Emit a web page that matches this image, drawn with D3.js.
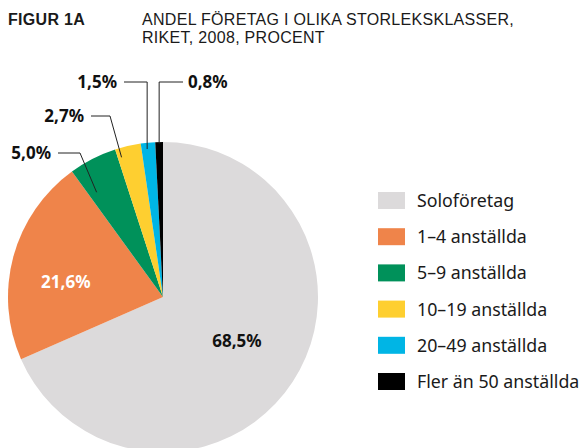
<!DOCTYPE html>
<html>
<head>
<meta charset="utf-8">
<script src="https://cdn.jsdelivr.net/npm/d3@7"></script>
<style>
  body { margin: 0; background: #fff; }
  svg { display: block; font-family: "Noto Sans", sans-serif; }
  .head { font-family: "Liberation Sans", Arial, sans-serif; }
</style>
</head>
<body>
<div id="chart"></div>
<script>
// data
const categories = ["Soloföretag", "1–4 anställda", "5–9 anställda", "10–19 anställda", "20–49 anställda", "Fler än 50 anställda"];
const shares = [68.5, 21.6, 5.0, 2.7, 1.5, 0.8];
const valueLabels = ["68,5%", "21,6%", "5,0%", "2,7%", "1,5%", "0,8%"];
const colors = ["#dcdadb", "#ef844a", "#00915a", "#fecf30", "#00b5e5", "#000000"];
const titleLines = ["ANDEL FÖRETAG I OLIKA STORLEKSKLASSER,", "RIKET, 2008, PROCENT"];

const width = 585, height = 448;
const cx = 163, cy = 297, radius = 155;

// callout layout for the small slices: t = position inside the slice, k = radius fraction
const callouts = [
  { i: 2, t: 0.2, k: 0.80, elbow: [80, 153], end: 58, side: "left" },
  { i: 3, t: 0.15, k: 0.94, elbow: [110, 116], end: 91, side: "left" },
  { i: 4, t: 0.4, k: 0.96, elbow: null, y: 82, end: 124, side: "left" },
  { i: 5, t: 0.5, k: 0.99, elbow: null, y: 82, end: 183, side: "right" }
];

const svg = d3.select("#chart").append("svg")
  .attr("width", width)
  .attr("height", height);

// title
svg.append("text")
  .attr("class", "head")
  .attr("x", 8).attr("y", 25)
  .attr("font-size", 16).attr("font-weight", "bold").attr("fill", "#1a1a1a")
  .attr("letter-spacing", 0.3)
  .text("FIGUR 1A");
svg.selectAll("text.title")
  .data(titleLines)
  .enter()
  .append("text")
  .attr("class", "title head")
  .attr("x", 142)
  .attr("y", (d, i) => 25 + i * 18)
  .attr("font-size", 16).attr("fill", "#1a1a1a")
  .attr("letter-spacing", 0.3)
  .text(d => d);

// pie
const pie = d3.pie().sort(null).value(d => d)(shares);
const arc = d3.arc().innerRadius(0).outerRadius(radius);

const g = svg.append("g").attr("transform", `translate(${cx}, ${cy})`);

g.selectAll("path.slice")
  .data(pie)
  .enter()
  .append("path")
  .attr("class", "slice")
  .attr("d", arc)
  .attr("fill", (d, i) => colors[i]);

// labels inside the big slices
const inner = [
  { i: 0, r: 0.555, a: 0.49, fill: "#111" },
  { i: 1, r: 0.635, a: 0.42, fill: "#fff" }
];
inner.forEach(o => {
  const d = pie[o.i];
  const ang = d.startAngle + (d.endAngle - d.startAngle) * o.a;
  g.append("text")
    .attr("x", Math.sin(ang) * radius * o.r)
    .attr("y", -Math.cos(ang) * radius * o.r)
    .attr("text-anchor", "middle")
    .attr("dy", "0.35em")
    .attr("font-size", 17).attr("font-weight", "bold")
    .attr("fill", o.fill)
    .text(valueLabels[o.i]);
});

// callout lines for the small slices
callouts.forEach(c => {
  const d = pie[c.i];
  const ang = d.startAngle + (d.endAngle - d.startAngle) * c.t;
  const ax = cx + Math.sin(ang) * radius * c.k;
  const ay = cy - Math.cos(ang) * radius * c.k;
  const elbow = c.elbow || [ax, c.y];
  svg.append("polyline")
    .attr("points", [[ax, ay], elbow, [c.end, elbow[1]]].map(p => p.join(",")).join(" "))
    .attr("fill", "none")
    .attr("stroke", "#222")
    .attr("stroke-width", 1);
  svg.append("text")
    .attr("x", c.side === "left" ? c.end - 7 : c.end + 5)
    .attr("y", elbow[1])
    .attr("dy", "0.35em")
    .attr("text-anchor", c.side === "left" ? "end" : "start")
    .attr("font-size", 17).attr("font-weight", "bold").attr("fill", "#111")
    .text(valueLabels[c.i]);
});

// legend
const legend = svg.append("g").attr("transform", "translate(378, 192)");
const rows = legend.selectAll("g.row")
  .data(categories)
  .enter()
  .append("g")
  .attr("class", "row")
  .attr("transform", (d, i) => `translate(0, ${i * 36.2})`);
rows.append("rect")
  .attr("width", 27).attr("height", 17)
  .attr("fill", (d, i) => colors[i]);
rows.append("text")
  .attr("x", 39).attr("y", 15)
  .attr("font-size", 17.8).attr("fill", "#1a1a1a")
  .text(d => d);
</script>
</body>
</html>
